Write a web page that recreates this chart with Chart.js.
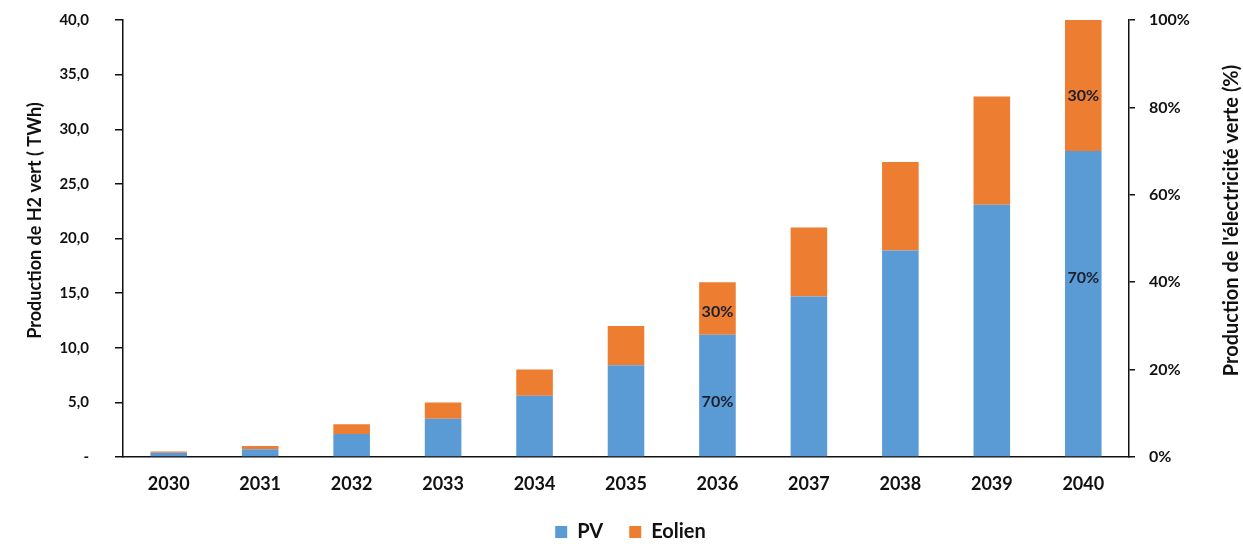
<!DOCTYPE html>
<html lang="fr">
<head>
<meta charset="utf-8">
<script src="https://cdn.jsdelivr.net/npm/chart.js@4"></script>
<style>
  html, body { margin: 0; padding: 0; background: #ffffff; }
  #wrap { width: 1243px; height: 556px; position: relative; }
</style>
</head>
<body>
<div id="wrap"><canvas id="c"></canvas></div>
<script>
// Years on the horizontal axis
const years = ['2030', '2031', '2032', '2033', '2034', '2035', '2036', '2037', '2038', '2039', '2040'];

// Green hydrogen production by source (TWh)
const pvValues     = [0.4, 0.7, 2.1, 3.5, 5.6, 8.4, 11.2, 14.7, 18.9, 23.1, 28.0];
const eolienValues = [0.1, 0.3, 0.9, 1.5, 2.4, 3.6, 4.8, 6.3, 8.1, 9.9, 12.0];

// Share labels written inside selected bars
const shareYears  = ['2036', '2040'];
const pvShare     = '70%';
const eolienShare = '30%';

// Axis tick values
const leftTicks  = [0, 5, 10, 15, 20, 25, 30, 35, 40];
const rightTicks = [0, 20, 40, 60, 80, 100];

// Axis titles
const leftTitle  = 'Production de H2 vert ( TWh)';
const rightTitle = "Production de l'électricité verte (%)";

const FONT = 'Lato, "Open Sans", sans-serif';
const BLUE = '#5b9bd5';
const ORANGE = '#ed7d31';
const INK = '#111111';

// Writes the share percentages inside the chosen bar segments
const shareLabels = {
  id: 'shareLabels',
  afterDatasetsDraw(chart, args, opts) {
    const ctx = chart.ctx;
    const texts = [pvShare, eolienShare];
    ctx.save();
    ctx.font = 'bold 16px ' + FONT;
    ctx.fillStyle = '#1a1f2e';
    ctx.textAlign = 'center';
    ctx.textBaseline = 'middle';
    chart.data.datasets.forEach((ds, di) => {
      const meta = chart.getDatasetMeta(di);
      shareYears.forEach(y => {
        const i = years.indexOf(y);
        const bar = meta.data[i];
        if (!bar) return;
        const p = bar.getProps(['x', 'y', 'base'], true);
        const shift = (opts.shift[y] || [0, 0])[di];
        ctx.fillText(texts[di], p.x, (p.y + p.base) / 2 + shift);
      });
    });
    ctx.restore();
  }
};

// Rotated titles beside both vertical axes
const axisTitles = {
  id: 'axisTitles',
  afterDraw(chart, args, opts) {
    const ctx = chart.ctx;
    const a = chart.chartArea;
    const cy = (a.top + a.bottom) / 2 + opts.lift;
    ctx.save();
    ctx.fillStyle = INK;
    ctx.textAlign = 'center';
    ctx.textBaseline = 'middle';
    [[leftTitle, opts.leftX, opts.leftFont], [rightTitle, opts.rightX, opts.rightFont]].forEach(([t, x, f]) => {
      ctx.save();
      ctx.font = f;
      ctx.translate(x, cy);
      ctx.rotate(-Math.PI / 2);
      ctx.fillText(t, 0, 0);
      ctx.restore();
    });
    ctx.restore();
  }
};

// Keep the tick padding from pushing the plot area down
function trimVertical(s) {
  s.paddingTop = 10;
  s.paddingBottom = 10;
}

new Chart(document.getElementById('c'), {
  type: 'bar',
  data: {
    labels: years,
    datasets: [
      { label: 'PV', data: pvValues, backgroundColor: BLUE, yAxisID: 'y', stack: 's' },
      { label: 'Eolien', data: eolienValues, backgroundColor: ORANGE, yAxisID: 'y', stack: 's' }
    ]
  },
  options: {
    responsive: true,
    maintainAspectRatio: false,
    animation: false,
    layout: { padding: { top: 20, left: 18, right: 0, bottom: 4 } },
    datasets: { bar: { categoryPercentage: 1.0, barPercentage: 0.4 } },
    plugins: {
      legend: {
        position: 'bottom',
        labels: {
          font: { family: FONT, size: 20, weight: 'bold' },
          color: INK,
          boxWidth: 12,
          boxHeight: 12,
          padding: 26
        }
      },
      tooltip: { enabled: false },
      shareLabels: { shift: { '2036': [6, 3], '2040': [-26, 10] } },
      axisTitles: {
        leftFont: 'bold 18px ' + FONT,
        rightFont: 'bold 20px ' + FONT,
        leftX: 35, rightX: 1232, lift: -18
      }
    },
    scales: {
      x: {
        stacked: true,
        grid: { display: false, drawTicks: false },
        border: { display: true, color: INK, width: 1.5 },
        ticks: { font: { family: FONT, size: 18, weight: 'bold' }, color: INK, padding: 16, autoSkip: false, maxRotation: 0 },
        afterFit(s) { s.height = 39; }
      },
      y: {
        stacked: true,
        position: 'left',
        min: 0, max: 40,
        afterBuildTicks(s) { s.ticks = leftTicks.map(v => ({ value: v })); },
        grid: { display: true, drawOnChartArea: false, drawTicks: true, tickLength: 8, color: INK, lineWidth: 1.5 },
        border: { display: true, color: INK, width: 1.5 },
        ticks: {
          font: { family: FONT, size: 15, weight: 'bold' },
          color: INK,
          padding: 26,
          callback: v => v === 0 ? '-' : v.toFixed(1).replace('.', ',')
        },
        afterFit(s) { s.width = 105; trimVertical(s); }
      },
      y2: {
        position: 'right',
        min: 0, max: 100,
        afterBuildTicks(s) { s.ticks = rightTicks.map(v => ({ value: v })); },
        grid: { display: true, drawOnChartArea: false, drawTicks: true, tickLength: 6, color: INK, lineWidth: 1.5 },
        border: { display: true, color: INK, width: 1.5 },
        ticks: {
          font: { family: FONT, size: 16, weight: 'bold' },
          color: INK,
          padding: 14,
          callback: v => v + '%'
        },
        afterFit(s) { s.width = 114; trimVertical(s); }
      }
    }
  },
  plugins: [shareLabels, axisTitles]
});
</script>
</body>
</html>
